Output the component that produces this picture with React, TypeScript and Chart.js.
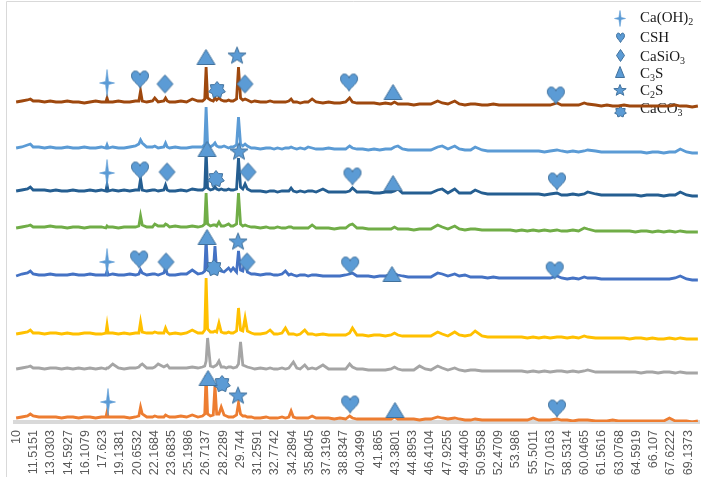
import React, { useEffect, useRef } from 'react';
import { Chart, registerables } from 'chart.js';

Chart.register(...registerables);

// 2θ positions (degrees) shared by all patterns
const TWO_THETA = [
  10, 10.5, 11, 11.25, 11.5, 12, 12.5, 13, 13.5, 14,
  14.5, 15, 15.5, 16, 16.5, 17, 17.5, 17.9, 18.0, 18.1,
  18.5, 19, 19.5, 20, 20.5, 20.8, 20.95, 21.1, 21.5, 22,
  22.2, 22.5, 23, 23.15, 23.3, 23.5, 24, 24.5, 25, 25.5,
  26, 26.4, 26.6, 26.72, 26.85, 27.1, 27.35, 27.5, 27.65, 27.85,
  28.05, 28.3, 28.5, 28.7, 28.9, 29.1, 29.4, 29.57, 29.75, 29.95,
  30.15, 30.35, 30.7, 31, 31.5, 32, 32.35, 32.7, 33, 33.4,
  33.7, 34, 34.2, 34.4, 34.7, 35, 35.4, 35.7, 36.05, 36.4,
  37, 37.5, 38, 38.5, 39, 39.35, 39.6, 40, 40.5, 41,
  41.5, 42, 42.5, 43, 43.3, 43.6, 44, 44.5, 45, 45.5,
  46, 46.5, 47.1, 47.5, 48, 48.6, 49, 49.5, 50, 50.4,
  51, 51.5, 52, 52.5, 53, 53.5, 54, 54.5, 55, 55.5,
  56, 56.5, 57, 57.6, 58, 58.5, 59, 59.5, 60, 60.3,
  61, 61.5, 62, 62.5, 63, 63.5, 64, 64.5, 65, 65.5,
  66, 66.5, 67, 67.5, 68, 68.45, 69, 69.5, 70,
];

const TICK_LABELS = [
  '10', '11.5151', '13.0303', '14.5927', '16.1079', '17.623', '19.1381', '20.6532',
  '22.1684', '23.6835', '25.1986', '26.7137', '28.2289', '29.744', '31.2591', '32.7742',
  '34.2894', '35.8045', '37.3196', '38.8347', '40.3499', '41.865', '43.3801', '44.8953',
  '46.4104', '47.9255', '49.4406', '50.9558', '52.4709', '53.986', '55.5011', '57.0163',
  '58.5314', '60.0465', '61.5616', '63.0768', '64.5919', '66.107', '67.6222', '69.1373',
];

// intensities (arbitrary units) of the eight patterns, top to bottom
const S_BROWN = [
  5, 6, 7, 8, 6, 6, 5, 6, 5, 5,
  6, 5, 5, 4, 5, 6, 5, 5, 9, 5,
  5, 6, 5, 5, 6, 6, 16, 6, 5, 6,
  9, 5, 6, 9, 6, 5, 5, 6, 5, 8,
  6, 6, 8, 40, 9, 7, 6, 9, 7, 9,
  7, 6, 6, 7, 6, 6, 8, 40, 9, 7,
  8, 7, 5, 6, 5, 5, 6, 5, 5, 5,
  5, 6, 8, 5, 5, 4, 5, 5, 8, 5,
  4, 5, 4, 4, 5, 9, 5, 4, 4, 4,
  4, 3, 4, 3, 5, 3, 3, 3, 2, 3,
  3, 3, 6, 4, 3, 6, 3, 2, 3, 3,
  2, 2, 3, 2, 2, 2, 2, 2, 2, 2,
  2, 2, 2, 4, 2, 2, 2, 2, 4, 3,
  2, 1, 2, 1, 1, 2, 1, 1, 1, 1,
  1, 1, 1, 1, 2, 1, 1, 0, 1,
];
const S_LIGHTBLUE = [
  5, 6, 8, 9, 6, 6, 5, 6, 5, 5,
  6, 5, 5, 6, 5, 5, 6, 5, 8, 5,
  6, 5, 5, 6, 7, 9, 13, 10, 6, 6,
  7, 5, 6, 10, 6, 5, 6, 5, 5, 6,
  6, 6, 9, 46, 9, 6, 8, 10, 7, 6,
  6, 7, 6, 5, 6, 6, 8, 36, 9, 7,
  9, 7, 5, 5, 4, 5, 5, 4, 5, 4,
  5, 5, 6, 5, 4, 5, 4, 6, 5, 4,
  4, 5, 4, 4, 4, 7, 5, 4, 4, 3,
  4, 3, 4, 4, 6, 7, 4, 3, 3, 3,
  3, 3, 6, 7, 4, 7, 4, 3, 3, 6,
  3, 2, 2, 2, 2, 2, 2, 2, 2, 2,
  2, 1, 2, 3, 2, 1, 2, 1, 2, 3,
  2, 1, 1, 1, 1, 1, 1, 1, 1, 0,
  1, 1, 0, 1, 1, 4, 1, 0, 0,
];
const S_DARKBLUE = [
  5, 6, 7, 9, 6, 6, 6, 5, 6, 5,
  5, 6, 5, 5, 6, 5, 6, 5, 11, 5,
  6, 5, 6, 5, 6, 6, 17, 6, 5, 6,
  6, 5, 6, 11, 6, 5, 5, 6, 5, 7,
  6, 6, 8, 46, 8, 6, 7, 9, 7, 6,
  7, 6, 6, 7, 6, 6, 7, 38, 9, 7,
  12, 7, 5, 5, 5, 4, 5, 5, 4, 5,
  5, 5, 8, 5, 4, 5, 4, 5, 5, 4,
  7, 4, 4, 4, 4, 5, 8, 4, 4, 4,
  3, 3, 4, 4, 5, 7, 3, 3, 3, 3,
  3, 3, 6, 7, 3, 7, 3, 3, 3, 6,
  3, 2, 2, 2, 2, 2, 2, 2, 2, 2,
  2, 1, 2, 3, 1, 1, 2, 1, 2, 4,
  2, 1, 1, 1, 1, 1, 1, 1, 0, 1,
  1, 1, 0, 1, 1, 4, 1, 0, 0,
];
const S_GREEN = [
  4, 5, 6, 7, 5, 5, 5, 6, 5, 5,
  4, 5, 5, 4, 5, 5, 5, 4, 6, 5,
  5, 4, 5, 5, 5, 6, 16, 7, 5, 5,
  8, 6, 6, 8, 7, 5, 6, 5, 5, 6,
  5, 6, 8, 39, 8, 6, 7, 7, 6, 10,
  6, 6, 7, 8, 6, 6, 8, 39, 8, 6,
  7, 6, 5, 5, 4, 5, 4, 4, 5, 4,
  4, 5, 5, 4, 4, 4, 4, 4, 7, 4,
  4, 4, 3, 4, 4, 7, 8, 4, 4, 3,
  3, 3, 3, 3, 5, 3, 3, 3, 2, 3,
  3, 3, 7, 5, 3, 6, 3, 2, 3, 3,
  2, 2, 2, 2, 2, 2, 1, 2, 1, 2,
  1, 2, 1, 2, 1, 1, 2, 1, 4, 3,
  1, 1, 1, 1, 1, 1, 1, 0, 1, 1,
  0, 1, 0, 1, 0, 1, 0, 0, 0,
];
const S_BLUE = [
  4, 6, 7, 9, 6, 5, 5, 6, 5, 5,
  5, 6, 5, 5, 6, 5, 5, 5, 9, 5,
  6, 5, 5, 6, 5, 6, 10, 7, 5, 6,
  6, 5, 7, 12, 6, 5, 5, 6, 6, 10,
  6, 7, 9, 41, 10, 8, 9, 34, 9, 12,
  9, 8, 10, 12, 9, 12, 8, 29, 10, 9,
  19, 8, 6, 6, 5, 6, 6, 5, 5, 6,
  9, 5, 6, 5, 4, 5, 5, 4, 5, 5,
  4, 4, 4, 4, 5, 6, 7, 4, 4, 4,
  3, 4, 4, 5, 6, 5, 4, 3, 3, 3,
  3, 3, 7, 6, 4, 6, 4, 5, 3, 3,
  3, 2, 3, 2, 2, 2, 2, 2, 2, 2,
  2, 2, 2, 4, 2, 1, 2, 1, 3, 2,
  2, 1, 1, 1, 1, 1, 1, 1, 1, 1,
  1, 1, 1, 1, 2, 4, 1, 0, 0,
];
const S_YELLOW = [
  5, 6, 7, 9, 6, 6, 5, 6, 6, 5,
  6, 5, 5, 6, 6, 5, 5, 6, 14, 6,
  6, 5, 6, 5, 6, 6, 17, 7, 6, 6,
  7, 6, 6, 11, 7, 5, 6, 5, 6, 9,
  6, 6, 9, 61, 10, 7, 7, 8, 7, 16,
  7, 6, 6, 7, 6, 6, 8, 31, 9, 8,
  21, 8, 6, 5, 5, 6, 9, 5, 5, 6,
  11, 5, 5, 5, 4, 5, 9, 5, 5, 4,
  5, 4, 4, 4, 4, 6, 11, 4, 4, 3,
  4, 4, 3, 4, 6, 4, 3, 3, 3, 3,
  3, 3, 7, 5, 3, 7, 4, 3, 4, 8,
  3, 2, 2, 2, 2, 2, 2, 2, 1, 2,
  1, 2, 1, 2, 2, 1, 2, 1, 3, 2,
  1, 1, 1, 1, 1, 1, 0, 1, 1, 0,
  1, 0, 0, 1, 0, 1, 0, 0, 0,
];
const S_GRAY = [
  4, 5, 6, 7, 5, 5, 4, 5, 5, 4,
  5, 4, 5, 4, 5, 4, 5, 4, 5, 5,
  9, 5, 4, 5, 5, 6, 8, 9, 5, 5,
  6, 9, 6, 7, 8, 5, 5, 5, 5, 6,
  5, 6, 7, 12, 35, 7, 6, 7, 8, 12,
  6, 6, 5, 6, 6, 5, 6, 9, 31, 8,
  7, 6, 5, 4, 5, 4, 5, 4, 4, 5,
  4, 5, 8, 11, 5, 4, 8, 4, 5, 4,
  8, 4, 4, 4, 4, 9, 6, 4, 4, 3,
  3, 3, 3, 4, 6, 4, 3, 3, 3, 7,
  4, 3, 7, 5, 3, 5, 3, 2, 3, 3,
  2, 2, 2, 2, 2, 2, 2, 2, 1, 2,
  1, 2, 1, 2, 2, 1, 2, 1, 2, 3,
  1, 1, 1, 1, 1, 1, 1, 1, 0, 1,
  1, 0, 1, 1, 0, 1, 0, 0, 0,
];
const S_ORANGE = [
  4, 5, 6, 8, 6, 5, 5, 5, 5, 4,
  5, 5, 4, 5, 5, 4, 5, 5, 10, 5,
  5, 5, 5, 4, 5, 6, 15, 8, 5, 5,
  6, 5, 5, 7, 6, 5, 5, 6, 5, 7,
  5, 6, 8, 47, 8, 6, 7, 37, 8, 8,
  15, 7, 6, 5, 5, 5, 7, 19, 8, 6,
  6, 5, 5, 4, 4, 5, 4, 4, 4, 5,
  4, 5, 11, 5, 4, 4, 4, 4, 6, 4,
  4, 4, 3, 4, 3, 6, 4, 3, 3, 3,
  3, 3, 3, 3, 5, 3, 3, 3, 3, 2,
  3, 3, 5, 4, 3, 4, 3, 2, 2, 3,
  2, 2, 2, 2, 2, 2, 2, 2, 2, 4,
  2, 2, 2, 3, 2, 2, 1, 2, 2, 2,
  1, 1, 1, 2, 1, 1, 1, 1, 1, 1,
  1, 1, 1, 4, 1, 1, 1, 0, 1,
];

const SERIES = [S_BROWN, S_LIGHTBLUE, S_DARKBLUE, S_GREEN, S_BLUE, S_YELLOW, S_GRAY, S_ORANGE];
const SERIES_OFFSETS = [317, 271, 228, 192, 144, 85, 51, 2];
const SERIES_COLORS = ['#9E480E', '#5B9BD5', '#255E91', '#70AD47', '#4472C4', '#FFC000', '#A5A5A5', '#ED7D31'];

// phase markers: 2θ and height in the stacked plot
const CAOH2_X = [18.0, 18.0, 18.0, 18.08];
const CAOH2_Y = [341, 251, 162, 22];
const CSH_X = [20.9, 39.3, 57.5, 20.9, 39.6, 57.6, 20.82, 39.4, 57.4, 39.4, 57.6];
const CSH_Y = [345, 342, 329, 254, 248, 243, 165, 159, 154, 20, 16];
const CASIO3_X = [23.1, 30.14, 23.28, 30.41, 23.19, 30.32];
const CASIO3_Y = [340, 340, 252, 252, 162, 162];
const C3S_X = [26.71, 43.17, 26.8, 43.17, 26.8, 43.08, 26.89, 43.34];
const C3S_Y = [367, 332, 275, 241, 187, 150, 46, 14];
const C2S_X = [29.44, 29.61, 29.53, 29.53];
const C2S_Y = [368, 272, 182, 28];
const CACO3_X = [27.68, 27.59, 27.41, 28.12];
const CACO3_Y = [334, 245, 156, 40];

type Kind = 'sparkle' | 'heart' | 'diamond' | 'triangle' | 'star' | 'burst';

const FILL = '#5B9BD5';
const STROKE = '#41719C';

function tracePath(ctx: CanvasRenderingContext2D, kind: Kind, w: number, h: number) {
  ctx.beginPath();
  if (kind === 'sparkle') {
    const a = Math.max(1.1, w * 0.1);
    ctx.moveTo(0, -h / 2);
    ctx.lineTo(a, -a);
    ctx.lineTo(w / 2, 0);
    ctx.lineTo(a, a);
    ctx.lineTo(0, h / 2);
    ctx.lineTo(-a, a);
    ctx.lineTo(-w / 2, 0);
    ctx.lineTo(-a, -a);
    ctx.closePath();
  } else if (kind === 'heart') {
    ctx.moveTo(0, -h * 0.22);
    ctx.bezierCurveTo(-w * 0.08, -h * 0.52, -w * 0.5, -h * 0.52, -w * 0.5, -h * 0.18);
    ctx.bezierCurveTo(-w * 0.5, h * 0.1, -w * 0.14, h * 0.24, 0, h * 0.5);
    ctx.bezierCurveTo(w * 0.14, h * 0.24, w * 0.5, h * 0.1, w * 0.5, -h * 0.18);
    ctx.bezierCurveTo(w * 0.5, -h * 0.52, w * 0.08, -h * 0.52, 0, -h * 0.22);
    ctx.closePath();
  } else if (kind === 'diamond') {
    ctx.moveTo(0, -h / 2);
    ctx.lineTo(w / 2, 0);
    ctx.lineTo(0, h / 2);
    ctx.lineTo(-w / 2, 0);
    ctx.closePath();
  } else if (kind === 'triangle') {
    ctx.moveTo(0, -h / 2);
    ctx.lineTo(w / 2, h / 2);
    ctx.lineTo(-w / 2, h / 2);
    ctx.closePath();
  } else {
    const n = kind === 'star' ? 5 : 7;
    const ro = w / 2;
    const ri = kind === 'star' ? ro * 0.42 : ro * 0.7;
    for (let i = 0; i < n * 2; i++) {
      const r = i % 2 === 0 ? ro : ri;
      const ang = -Math.PI / 2 + (i * Math.PI) / n;
      const px = Math.cos(ang) * r;
      const py = Math.sin(ang) * r * (h / w);
      if (i === 0) ctx.moveTo(px, py);
      else ctx.lineTo(px, py);
    }
    ctx.closePath();
  }
}

function makeIcon(kind: Kind, w: number, h: number): HTMLCanvasElement {
  const c = document.createElement('canvas');
  c.width = Math.ceil(w + 3);
  c.height = Math.ceil(h + 3);
  const ctx = c.getContext('2d')!;
  ctx.translate(c.width / 2, c.height / 2);
  tracePath(ctx, kind, w, h);
  ctx.fillStyle = FILL;
  ctx.fill();
  ctx.lineWidth = kind === 'sparkle' ? 0.6 : 1;
  ctx.strokeStyle = kind === 'sparkle' ? FILL : STROKE;
  ctx.stroke();
  return c;
}

type Seg = { t: string; sub?: boolean };
const LEGEND_TEXT: Seg[][] = [
  [{ t: 'Ca(OH)' }, { t: '2', sub: true }],
  [{ t: 'CSH' }],
  [{ t: 'CaSiO' }, { t: '3', sub: true }],
  [{ t: 'C' }, { t: '3', sub: true }, { t: 'S' }],
  [{ t: 'C' }, { t: '2', sub: true }, { t: 'S' }],
  [{ t: 'CaCO' }, { t: '3', sub: true }],
];

export default function App() {
  const ref = useRef<HTMLCanvasElement>(null);

  useEffect(() => {
    if (!ref.current) return;
    const big = {
      sparkle: makeIcon('sparkle', 15, 27),
      heart: makeIcon('heart', 17, 18),
      diamond: makeIcon('diamond', 16, 18),
      triangle: makeIcon('triangle', 18, 15),
      star: makeIcon('star', 19, 18),
      burst: makeIcon('burst', 17, 17),
    };
    const small = [
      makeIcon('sparkle', 11, 16),
      makeIcon('heart', 8, 10),
      makeIcon('diamond', 8, 12),
      makeIcon('triangle', 9, 11),
      makeIcon('star', 13, 12),
      makeIcon('burst', 12, 11),
    ];
    const iconY = [18, 37, 55, 72, 90, 112];
    const textY = [18, 38, 57, 74, 91, 109];

    const legendPlugin = {
      id: 'phaseLegend',
      beforeDraw(chart: any) {
        const ctx = chart.ctx as CanvasRenderingContext2D;
        ctx.save();
        ctx.strokeStyle = '#d9d9d9';
        ctx.lineWidth = 1;
        ctx.beginPath();
        ctx.moveTo(6.5, 477);
        ctx.lineTo(6.5, 1.5);
        ctx.lineTo(701, 1.5);
        ctx.stroke();
        ctx.restore();
      },
      beforeDatasetsDraw(chart: any) {
        const ctx = chart.ctx as CanvasRenderingContext2D;
        ctx.save();
        small.forEach((ic, i) => {
          ctx.drawImage(ic, Math.round(620 - ic.width / 2), Math.round(iconY[i] - ic.height / 2));
        });
        ctx.fillStyle = '#1a1a1a';
        ctx.textBaseline = 'middle';
        ctx.textAlign = 'left';
        LEGEND_TEXT.forEach((segs, i) => {
          let x = 640;
          segs.forEach((s) => {
            ctx.font = s.sub ? '10px "Liberation Serif", serif' : '15px "Liberation Serif", serif';
            const y = s.sub ? textY[i] + 4 : textY[i];
            ctx.fillText(s.t, x, y);
            x += ctx.measureText(s.t).width;
          });
        });
        ctx.restore();
      },
    };

    const lineSets = SERIES.map((vals, si) => ({
      data: TWO_THETA.map((x, i) => ({ x, y: SERIES_OFFSETS[si] + vals[i] })),
      borderColor: SERIES_COLORS[si],
      backgroundColor: SERIES_COLORS[si],
      borderWidth: 2.8,
      pointRadius: 0,
      pointBorderWidth: 0,
      tension: 0,
      fill: false,
      order: 1,
    }));

    const markerSet = (xs: number[], ys: number[], icon: HTMLCanvasElement) => ({
      data: xs.map((x, i) => ({ x, y: ys[i] })),
      showLine: false,
      pointStyle: icon,
      pointRadius: 1,
      pointHoverRadius: 1,
      pointBorderWidth: 0,
      borderWidth: 0,
      borderColor: 'rgba(0,0,0,0)',
      backgroundColor: 'rgba(0,0,0,0)',
      clip: false,
      order: 0,
    });

    const markerSets = [
      markerSet(CAOH2_X, CAOH2_Y, big.sparkle),
      markerSet(CSH_X, CSH_Y, big.heart),
      markerSet(CASIO3_X, CASIO3_Y, big.diamond),
      markerSet(C3S_X, C3S_Y, big.triangle),
      markerSet(C2S_X, C2S_Y, big.star),
      markerSet(CACO3_X, CACO3_Y, big.burst),
    ];

    const tickValues = TICK_LABELS.map((s) => parseFloat(s));

    const chart = new Chart(ref.current, {
      type: 'line',
      data: { datasets: [...markerSets, ...lineSets] as any },
      options: {
        responsive: false,
        animation: false,
        layout: { padding: { left: 15, top: 2, right: 2, bottom: 0 } },
        plugins: { legend: { display: false }, tooltip: { enabled: false } },
        events: [],
        scales: {
          x: {
            type: 'linear',
            min: 9.9,
            max: 70.1,
            grid: { display: false, drawTicks: true, tickLength: 8 },
            border: { display: true, color: '#d9d9d9', width: 4 },
            ticks: {
              autoSkip: false,
              minRotation: 90,
              maxRotation: 90,
              padding: 0,
              color: '#595959',
              font: { family: '"Liberation Sans", Arial, sans-serif', size: 12.5 },
              callback: (_v: any, i: number) => TICK_LABELS[i],
            },
            afterBuildTicks: (axis: any) => {
              axis.ticks = tickValues.map((v) => ({ value: v }));
            },
            afterFit: (axis: any) => {
              axis.height = 55;
              axis.paddingLeft = 0;
              axis.paddingRight = 0;
            },
          },
          y: {
            display: false,
            min: 2,
            max: 422,
          },
        },
      } as any,
      plugins: [legendPlugin],
    });
    return () => chart.destroy();
  }, []);

  return (
    <canvas
      ref={ref}
      width={701}
      height={477}
      style={{ position: 'absolute', left: 0, top: 0, display: 'block', width: 701, height: 477 }}
    />
  );
}
